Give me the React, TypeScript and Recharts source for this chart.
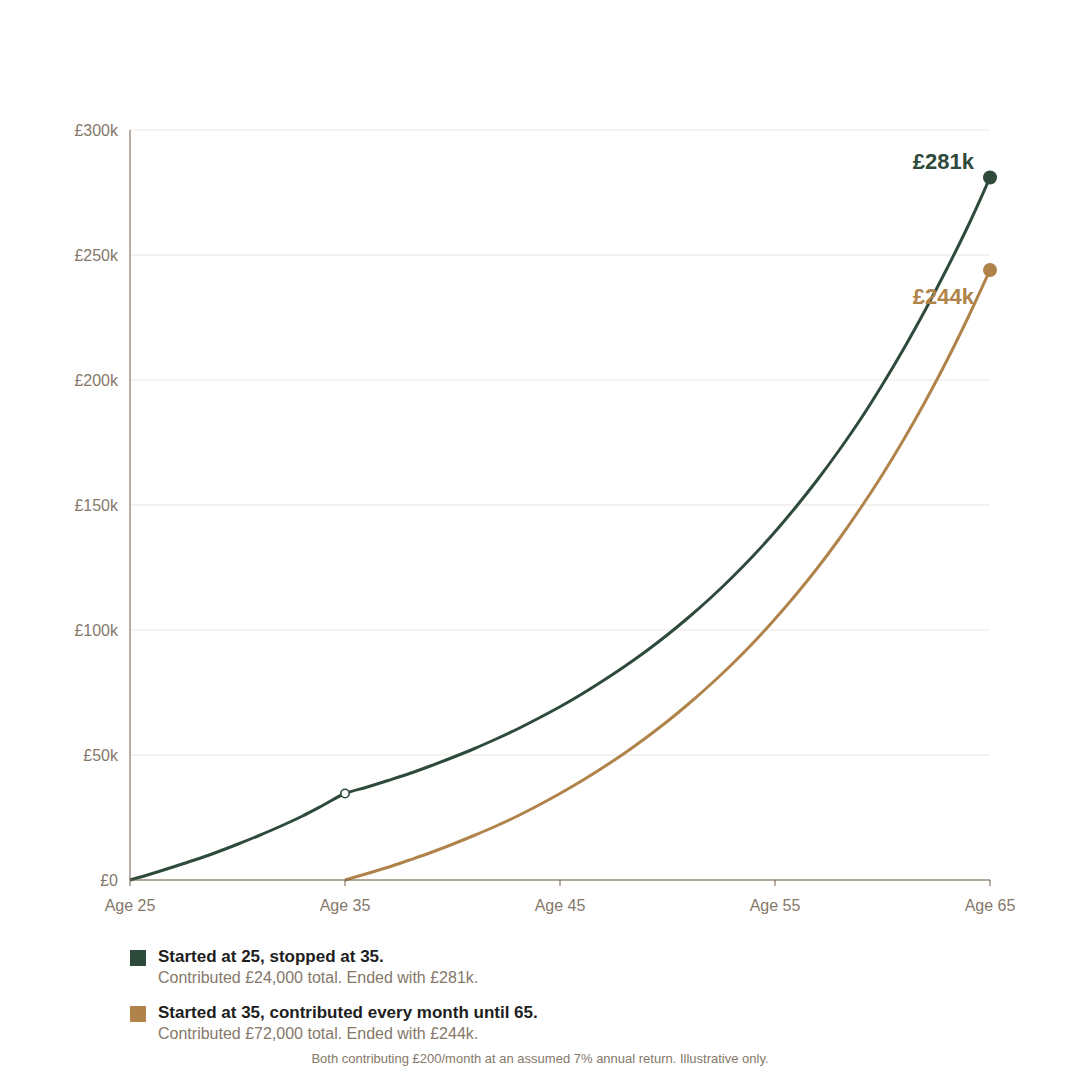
import React from 'react';
import { LineChart, Line, XAxis, YAxis, CartesianGrid } from 'recharts';

const ages = [25,26,27,28,29,30,31,32,33,34,35,36,37,38,39,40,41,42,43,44,45,46,47,48,49,50,51,52,53,54,55,56,57,58,59,60,61,62,63,64,65];
// values in £k
const earlyStarter: (number | null)[] = [0,2.5,5.2,8.0,11.0,14.3,17.8,21.5,25.5,30.0,34.6,37.1,39.8,42.6,45.7,49.0,52.5,56.3,60.3,64.7,69.3,74.3,79.7,85.4,91.5,98.1,105.2,112.8,121.0,129.8,139.3,149.5,160.4,172.1,184.6,198.2,212.7,228.2,244.6,262.0,281];
const lateStarter: (number | null)[] = [null,null,null,null,null,null,null,null,null,null,0,2.5,5.1,8.0,11.0,14.3,17.8,21.5,25.5,29.9,34.6,39.6,45.0,50.7,56.9,63.5,70.6,78.2,86.3,95.0,104.4,114.4,125.1,136.6,149.0,162.2,176.4,191.6,207.9,225.4,244];

const xTicks = [25, 35, 45, 55, 65];
const yTicks = [0, 50, 100, 150, 200, 250, 300];
const endLabels = { early: '£281k', late: '£244k' };
const stopAge = 35;

const seriesNames = ['Started at 25, stopped at 35.', 'Started at 35, contributed every month until 65.'];
const seriesNotes = ['Contributed £24,000 total. Ended with £281k.', 'Contributed £72,000 total. Ended with £244k.'];
const footnote = 'Both contributing £200/month at an assumed 7% annual return. Illustrative only.';

const DARK = '#2e4a3b';
const TAN = '#b0834a';
const MUTED = '#85786a';
const AXIS = '#6e5f4a';
const GRID = '#ebe7dd';
const FONT = '"Liberation Sans", Arial, sans-serif';

const data = ages.map((a, i) => ({ age: a, early: earlyStarter[i], late: lateStarter[i] }));
const lastAge = ages[ages.length - 1];

const EarlyDot = (props: any) => {
  const { cx, cy, payload, index } = props;
  if (payload.age === stopAge) {
    return <circle key={'e' + index} cx={cx} cy={cy} r={4.2} fill="#ffffff" stroke={DARK} strokeWidth={1.6} />;
  }
  if (payload.age === lastAge) {
    return (
      <g key={'e' + index}>
        <circle cx={cx} cy={cy} r={7} fill={DARK} />
        <text x={cx - 16} y={cy - 9} textAnchor="end" fontSize={22} fontWeight={700} fill={DARK} fontFamily={FONT}>{endLabels.early}</text>
      </g>
    );
  }
  return <g key={'e' + index} />;
};

const LateDot = (props: any) => {
  const { cx, cy, payload, index } = props;
  if (payload.age === lastAge) {
    return (
      <g key={'l' + index}>
        <circle cx={cx} cy={cy} r={7} fill={TAN} />
        <text x={cx - 16} y={cy + 34} textAnchor="end" fontSize={22} fontWeight={700} fill={TAN} fontFamily={FONT}>{endLabels.late}</text>
      </g>
    );
  }
  return <g key={'l' + index} />;
};

export default function App() {
  const colors = [DARK, TAN];
  const legendTops = [948, 1004];
  return (
    <div style={{ position: 'absolute', left: 0, top: 0, width: 1080, height: 1080, background: '#ffffff', fontFamily: FONT }}>
      <LineChart width={1080} height={940} data={data} margin={{ top: 130, right: 90, left: 0, bottom: 30 }}>
        <CartesianGrid horizontal vertical={false} stroke={GRID} strokeWidth={1} />
        <XAxis
          dataKey="age"
          type="number"
          domain={[25, 65]}
          ticks={xTicks}
          tickFormatter={(v: number) => `Age ${v}`}
          axisLine={{ stroke: AXIS, strokeWidth: 1 }}
          tickLine={{ stroke: AXIS, strokeWidth: 1 }}
          tickSize={6}
          tickMargin={14}
          height={30}
          tick={{ fill: MUTED, fontSize: 16, fontFamily: FONT }}
          interval={0}
        />
        <YAxis
          type="number"
          domain={[0, 300]}
          ticks={yTicks}
          tickFormatter={(v: number) => (v === 0 ? '£0' : `£${v}k`)}
          axisLine={{ stroke: AXIS, strokeWidth: 1 }}
          tickLine={false}
          tickSize={6}
          tickMargin={6}
          width={130}
          tick={{ fill: MUTED, fontSize: 16, fontFamily: FONT }}
          interval={0}
        />
        <Line type="monotone" dataKey="early" stroke={DARK} strokeWidth={3} dot={EarlyDot} activeDot={false} isAnimationActive={false} connectNulls={false} />
        <Line type="monotone" dataKey="late" stroke={TAN} strokeWidth={3} dot={LateDot} activeDot={false} isAnimationActive={false} connectNulls={false} />
      </LineChart>
      {seriesNames.map((name, i) => (
        <React.Fragment key={name}>
          <div style={{ position: 'absolute', left: 130, top: legendTops[i] + 2, width: 16, height: 16, background: colors[i] }} />
          <div style={{ position: 'absolute', left: 158, top: legendTops[i], fontSize: 17, lineHeight: '17px', fontWeight: 700, color: '#1e1e1e', whiteSpace: 'nowrap' }}>{name}</div>
          <div style={{ position: 'absolute', left: 158, top: legendTops[i] + 21.5, fontSize: 16, lineHeight: '16px', color: MUTED, whiteSpace: 'nowrap' }}>{seriesNotes[i]}</div>
        </React.Fragment>
      ))}
      <div style={{ position: 'absolute', left: 0, width: 1080, top: 1052, textAlign: 'center', fontSize: 13, lineHeight: '13px', color: MUTED, whiteSpace: 'nowrap' }}>{footnote}</div>
    </div>
  );
}
